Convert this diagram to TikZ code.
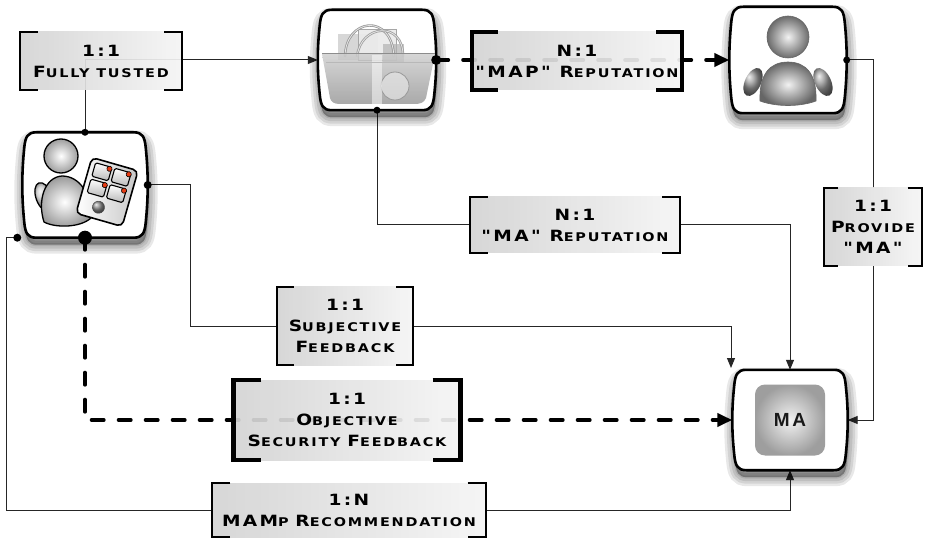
\documentclass[tikz,border=0pt]{standalone}
\usepackage{fontspec}
\usetikzlibrary{arrows.meta,calc}
\newfontfamily\lblfont{DejaVu Sans}[FakeStretch=1.2,LetterSpace=15]
\newfontfamily\mafont{Liberation Sans}[LetterSpace=14]
\newcommand\Bg[1]{{\fontsize{15.5}{21}\selectfont #1}}
\pgfdeclarelayer{paper}
\pgfdeclarelayer{wires}
\pgfsetlayers{paper,wires,main}

% rounded box with bulging sides, drawn over an invisible node
\newcommand\drawbarrel[2][barrel]{%
\draw[#1] ($(#2.north west)+(14,0)$) -- ($(#2.north east)+(-14,0)$)
 .. controls ($(#2.north east)+(-5,0)$) and ($(#2.north east)+(-3,5)$) .. ($(#2.north east)+(-2,15)$)
 .. controls ($(#2.north east)+(-0.8,27)$) and ($(#2.east)+(0,-14)$) .. (#2.east)
 .. controls ($(#2.east)+(0,14)$) and ($(#2.south east)+(-0.8,-27)$) .. ($(#2.south east)+(-2,-15)$)
 .. controls ($(#2.south east)+(-3,-5)$) and ($(#2.south east)+(-5,0)$) .. ($(#2.south east)+(-14,0)$)
 -- ($(#2.south west)+(14,0)$)
 .. controls ($(#2.south west)+(5,0)$) and ($(#2.south west)+(3,-5)$) .. ($(#2.south west)+(2,-15)$)
 .. controls ($(#2.south west)+(0.8,-27)$) and ($(#2.west)+(0,14)$) .. (#2.west)
 .. controls ($(#2.west)+(0,-14)$) and ($(#2.north west)+(0.8,27)$) .. ($(#2.north west)+(2,15)$)
 .. controls ($(#2.north west)+(3,5)$) and ($(#2.north west)+(5,0)$) .. cycle;}

% soft drop shadow under an actor box, then the box itself
\newcommand\actorbox[1]{%
\foreach \w in {18,13,8,3}{%
  \drawbarrel[draw=black, fill=black, line width=\w pt, draw opacity=0.09, fill opacity=0.09,
    transform canvas={shift={(1,7)}}]{#1}}
\drawbarrel{#1}}

% square brackets on the left and right sides of a label
\newcommand\brk[3]{%
\draw[line width=#2, line cap=butt, line join=miter]
 ($(#1.north west)+(#3,0)$) -- (#1.north west) -- (#1.south west) -- ($(#1.south west)+(#3,0)$)
 ($(#1.north east)+(-#3,0)$) -- (#1.north east) -- (#1.south east) -- ($(#1.south east)+(-#3,0)$);}

\begin{document}
\begin{tikzpicture}[x=1pt,y=-1pt,
  barrelbox/.style={rectangle, inner sep=0pt, draw=none},
  barrel/.style={line width=2.6pt, draw=black, fill=white, line join=round},
  lbl/.style={rectangle, inner sep=0pt, left color=black!17, right color=black!4,
    fill opacity=0.92, text opacity=1, align=center,
    font=\lblfont\bfseries\fontsize{12}{21}\selectfont},
  conn/.style={line width=1pt, draw=black!85},
  thinarrow/.style={-{Triangle[length=10pt,width=8pt]}},
  thickdash/.style={line width=4pt, draw=black, dash pattern=on 12pt off 15pt, line cap=round},
  thickarrow/.style={-{Triangle[length=15pt,width=13pt]}},
  mainner/.style={rectangle, rounded corners=10pt, minimum width=70pt, minimum height=71pt,
    inner color=black!5, outer color=black!38, font=\mafont\bfseries\fontsize{19}{20}\selectfont, text=black!90}
]
\begin{pgfonlayer}{paper}
\fill[white] (0,0) rectangle (927,540);
\end{pgfonlayer}
\useasboundingbox (0,0) rectangle (927,540);

% ---------- actors ----------
\node[barrelbox, minimum width=118, minimum height=100] (bask) at (377,60) {};
\node[barrelbox, minimum width=117, minimum height=106] (user) at (788,60) {};
\node[barrelbox, minimum width=125, minimum height=105] (tab) at (85,185) {};
\node[barrelbox, minimum width=115, minimum height=100] (ma) at (790,420) {};
\coordinate (fb) at ($(tab.south west)+(-5,0)$);
\coordinate (maNW) at (731,368);

\actorbox{bask}
\actorbox{user}
\actorbox{tab}
\actorbox{ma}

% basket
\begin{scope}
  \fill[black!22, opacity=.7] (338,34) rectangle (378,60);
  \fill[black!8, opacity=.9] (358,29) rectangle (396,60);
  \draw[black!35, line width=.8pt] (358,29) rectangle (396,60);
  \fill[black!30, opacity=.7] (383,44) rectangle (404,62);
  \draw[black!40, line width=2.4pt] (345,57) .. controls (345,18) and (392,12) .. (394,57);
  \draw[black!10, line width=.8pt] (345,57) .. controls (345,18) and (392,12) .. (394,57);
  \draw[black!38, line width=2.4pt] (357,57) .. controls (360,24) and (404,20) .. (403,57);
  \draw[black!10, line width=.8pt] (357,57) .. controls (360,24) and (404,20) .. (403,57);
  \shade[top color=black!20, bottom color=black!42, opacity=.8]
    (322,54) -- (435,54) -- (426,98) .. controls (424,103) and (420,104) .. (414,104)
    -- (340,104) .. controls (334,104) and (331,102) .. (330,98) -- cycle;
  \fill[black!10, opacity=.7] (395,86) circle (14pt);
  \draw[black!40, line width=.8pt] (395,86) circle (14pt);
  \fill[white, opacity=.5] (372,55) rectangle (382,104);
  \draw[black!45, line width=1pt] (322,54) -- (435,54);
  \draw[black!28, line width=.6pt] (326,62) -- (432,62);
\end{scope}

% person
\begin{scope}
  \shade[ball color=black!40, rotate around={-25:(753,82)}] (753,82) ellipse (8pt and 15pt);
  \shade[ball color=black!40, rotate around={25:(823,82)}] (823,82) ellipse (8pt and 15pt);
  \shadedraw[inner color=black!5, outer color=black!60, draw=black!60, line width=.6pt]
    (760,101) .. controls (759,74) and (770,62) .. (788,62)
    .. controls (806,62) and (817,74) .. (816,101)
    .. controls (800,107) and (776,107) .. (760,101) -- cycle;
  \shadedraw[inner color=black!5, outer color=black!58, draw=black!60, line width=.6pt] (788,37) circle (21pt);
\end{scope}

% person holding a tablet
\begin{scope}[line width=1.3pt]
  \shadedraw[ball color=black!22, draw=black, rotate around={20:(44,197)}] (44,197) ellipse (8pt and 15pt);
  \shadedraw[inner color=white, outer color=black!40, draw=black]
    (44,222) .. controls (37,200) and (45,177) .. (62,176)
    .. controls (80,176) and (92,195) .. (91,218)
    .. controls (80,228) and (55,228) .. (44,222) -- cycle;
  \shadedraw[inner color=white, outer color=black!38, draw=black] (61,156) circle (17pt);
  \begin{scope}[shift={(107,192)}, rotate=-16]
    \shadedraw[rounded corners=5pt, left color=white, right color=black!22, draw=black, line width=1.6pt]
      (-24,-29) rectangle (24,29);
    \foreach \i in {0,1} {
      \foreach \j in {0,1} {
        \shadedraw[top color=white, bottom color=black!28, draw=black, line width=1.1pt, rounded corners=1.5pt]
          ({-19+20*\i},{-25+17*\j}) rectangle ++(17,14);
        \filldraw[fill={rgb,255:red,230;green,60;blue,20}, draw=black, line width=.6pt]
          ({-4+20*\i},{-23+17*\j}) circle (2.6pt);
      }
    }
    \shadedraw[ball color=black!45, draw=black!70, line width=.6pt] (-4,17) circle (6pt);
  \end{scope}
\end{scope}

\node[mainner] (matext) at (ma.center) {MA};

% ---------- relation labels ----------
\node[lbl, minimum width=162, minimum height=58] (ft) at (101,61) {\Bg{1:1}\\\Bg{F}ULLY TUSTED};
\node[lbl, minimum width=210, minimum height=58] (mapr) at (577,61) {\Bg{N:1}\\\Bg{"MAP" R}EPUTATION};
\node[lbl, minimum width=210, minimum height=56] (mar) at (575,225) {\Bg{N:1}\\\Bg{"MA" R}EPUTATION};
\node[lbl, minimum width=97, minimum height=78] (prov) at (873,227) {\Bg{1:1}\\\Bg{P}ROVIDE\\\Bg{"MA"}};
\node[lbl, minimum width=136, minimum height=78] (subj) at (345,326) {\Bg{1:1}\\\Bg{S}UBJECTIVE\\\Bg{F}EEDBACK};
\node[lbl, minimum width=227, minimum height=80] (obj) at (347,420) {\Bg{1:1}\\\Bg{O}BJECTIVE\\\Bg{S}ECURITY \Bg{F}EEDBACK};
\node[lbl, minimum width=273, minimum height=54] (mamp) at (349,510) {\Bg{1:N}\\\Bg{MAM}P \Bg{R}ECOMMENDATION};

\brk{ft}{2pt}{18}
\brk{mapr}{4.5pt}{26}
\brk{mar}{2pt}{18}
\brk{prov}{2pt}{14}
\brk{subj}{2pt}{17}
\brk{obj}{4.5pt}{28}
\brk{mamp}{2pt}{18}

% ---------- connectors ----------
\begin{pgfonlayer}{wires}
  \draw[conn, thinarrow] (tab.north) |- (bask.west);
  \draw[thickdash, thickarrow] (bask.east) -- (user.west);
  \draw[conn] (bask.south) |- (mar.west);
  \draw[conn, thinarrow] (mar.east) -| (ma.north);
  \draw[conn] (user.east) -| (prov.north);
  \draw[conn, thinarrow] (prov.south) |- (ma.east);
  \draw[conn] (tab.east) -- ++(43,0) |- (subj.west);
  \draw[conn, thinarrow] (subj.east) -| (maNW);
  \draw[thickdash, thickarrow] (tab.south) |- (obj.center) -- (ma.west);
  \draw[conn] (fb) -- ++(-11,0) |- (mamp.west);
  \draw[conn, thinarrow] (mamp.east) -| (ma.south);
\end{pgfonlayer}

% connector end dots
\fill (tab.north) circle (3.5pt);
\fill (bask.east) circle (5pt);
\fill (bask.south) circle (3.5pt);
\fill (user.east) circle (3.5pt);
\fill (tab.east) circle (4pt);
\fill (tab.south) circle (7pt);
\fill (fb) circle (4pt);
\end{tikzpicture}
\end{document}
